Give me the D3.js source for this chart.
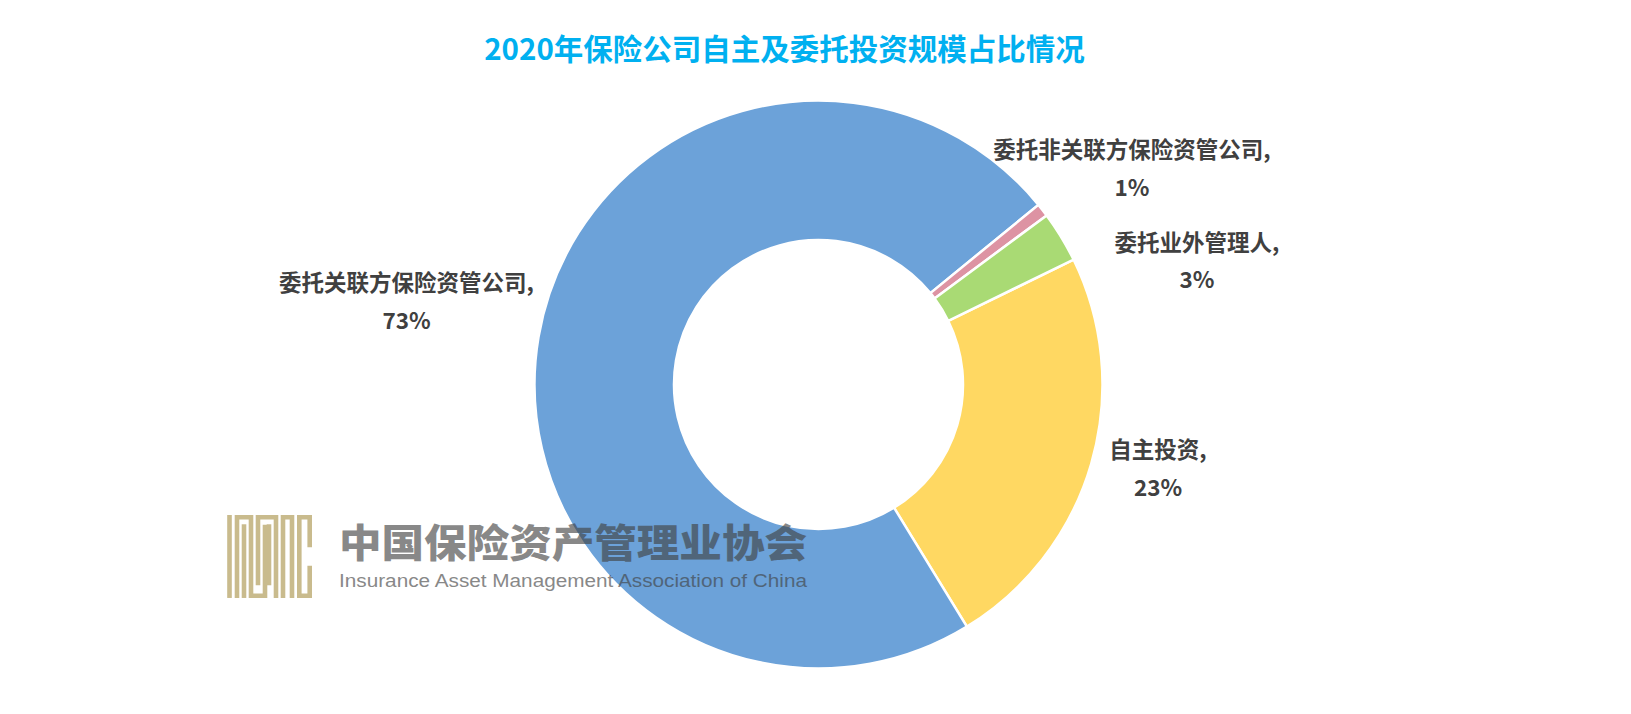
<!DOCTYPE html>
<html>
<head>
<meta charset="utf-8">
<script src="https://cdn.jsdelivr.net/npm/d3@7"></script>
<style>
  html, body { margin: 0; padding: 0; background: #ffffff; }
  svg { display: block; }
</style>
</head>
<body>
<svg id="chart" width="1631" height="714"></svg>
<script>
// ---- data ----
const categories = ["自主投资", "委托关联方保险资管公司", "委托非关联方保险资管公司", "委托业外管理人"];
const values = [23.5, 72.85, 0.75, 2.9];
const valueLabels = ["23%", "73%", "1%", "3%"];
const titleText = "2020年保险公司自主及委托投资规模占比情况";

// ---- layout / style ----
const W = 1631, H = 714;
const cx = 818.5, cy = 384.5;
const rOuter = 284, rInner = 144.5;
const startDeg = 63.9;
const colors = ["#FFD862", "#6CA2D9", "#DD93A3", "#A9DA74"];
// label block centre offsets relative to the donut centre (layout only)
const labelOffsets = [[339.5, 65.5], [-412, -101.5], [313.5, -234.5], [378.5, -142]];
const lineGap = 37.5;

const svg = d3.select("#chart");

// title
svg.append("text")
  .attr("x", 784.5).attr("y", 60)
  .attr("text-anchor", "middle")
  .style("font-family", "'Noto Sans CJK SC', 'Noto Sans', sans-serif")
  .style("font-weight", 700)
  .style("font-size", "29.5px")
  .style("fill", "#00B0F0")
  .text(titleText);

// donut
const pie = d3.pie().sort(null).value(d => d)
  .startAngle(startDeg * Math.PI / 180)
  .endAngle(startDeg * Math.PI / 180 + 2 * Math.PI);
const arc = d3.arc().innerRadius(rInner).outerRadius(rOuter);

const g = svg.append("g").attr("transform", `translate(${cx},${cy})`);
g.selectAll("path.slice")
  .data(pie(values))
  .join("path")
  .attr("class", "slice")
  .attr("d", arc)
  .attr("fill", (d, i) => colors[i])
  .attr("stroke", "#ffffff")
  .attr("stroke-width", 2.5)
  .attr("stroke-linejoin", "miter");

// labels
const lab = g.selectAll("g.lab")
  .data(categories)
  .join("g")
  .attr("class", "lab")
  .attr("transform", (d, i) => `translate(${labelOffsets[i][0]},${labelOffsets[i][1]})`);
lab.append("text")
  .attr("text-anchor", "middle")
  .attr("y", 8.3)
  .style("font-family", "'Noto Sans CJK SC', 'Noto Sans', sans-serif")
  .style("font-weight", 700)
  .style("font-size", "22.5px")
  .style("fill", "#404040")
  .text(d => d + ",");
lab.append("text")
  .attr("text-anchor", "middle")
  .attr("y", 8.3 + lineGap)
  .style("font-family", "'Noto Sans CJK SC', 'Noto Sans', sans-serif")
  .style("font-weight", 700)
  .style("font-size", "22.5px")
  .style("fill", "#404040")
  .text((d, i) => valueLabels[i]);

// watermark logo
const logo = svg.append("g").attr("transform", "translate(227,515) scale(1,0.976)")
  .attr("fill", "none").attr("stroke", "#C9BB8D").attr("stroke-width", 4.6)
  .attr("stroke-linecap", "butt").attr("stroke-linejoin", "miter");
const logoPaths = [
  "M2.5,0V85",
  "M10,85V2.3H24V82.7H38V10",
  "M17,85V9.5",
  "M31,72V2.3H49V85",
  "M42,9.5V72",
  "M56,85V2.3H65V85",
  "M82.7,33V2.3H72.3V82.7H82.7V52"
];
logo.selectAll("path").data(logoPaths).join("path").attr("d", d => d);

// watermark text
const wm = svg.append("g").style("opacity", 0.62);
wm.append("text")
  .attr("x", 339).attr("y", 556.7)
  .attr("textLength", 468).attr("lengthAdjust", "spacingAndGlyphs")
  .style("font-family", "'Noto Sans CJK SC', sans-serif")
  .style("font-weight", 900)
  .style("font-size", "38.4px")
  .style("fill", "#404040")
  .text("中国保险资产管理业协会");
wm.append("text")
  .attr("x", 339).attr("y", 586.7)
  .attr("textLength", 468).attr("lengthAdjust", "spacingAndGlyphs")
  .style("font-family", "'Liberation Sans', Arial, sans-serif")
  .style("font-size", "18.7px")
  .style("fill", "#404040")
  .text("Insurance Asset Management Association of China");
</script>
</body>
</html>
